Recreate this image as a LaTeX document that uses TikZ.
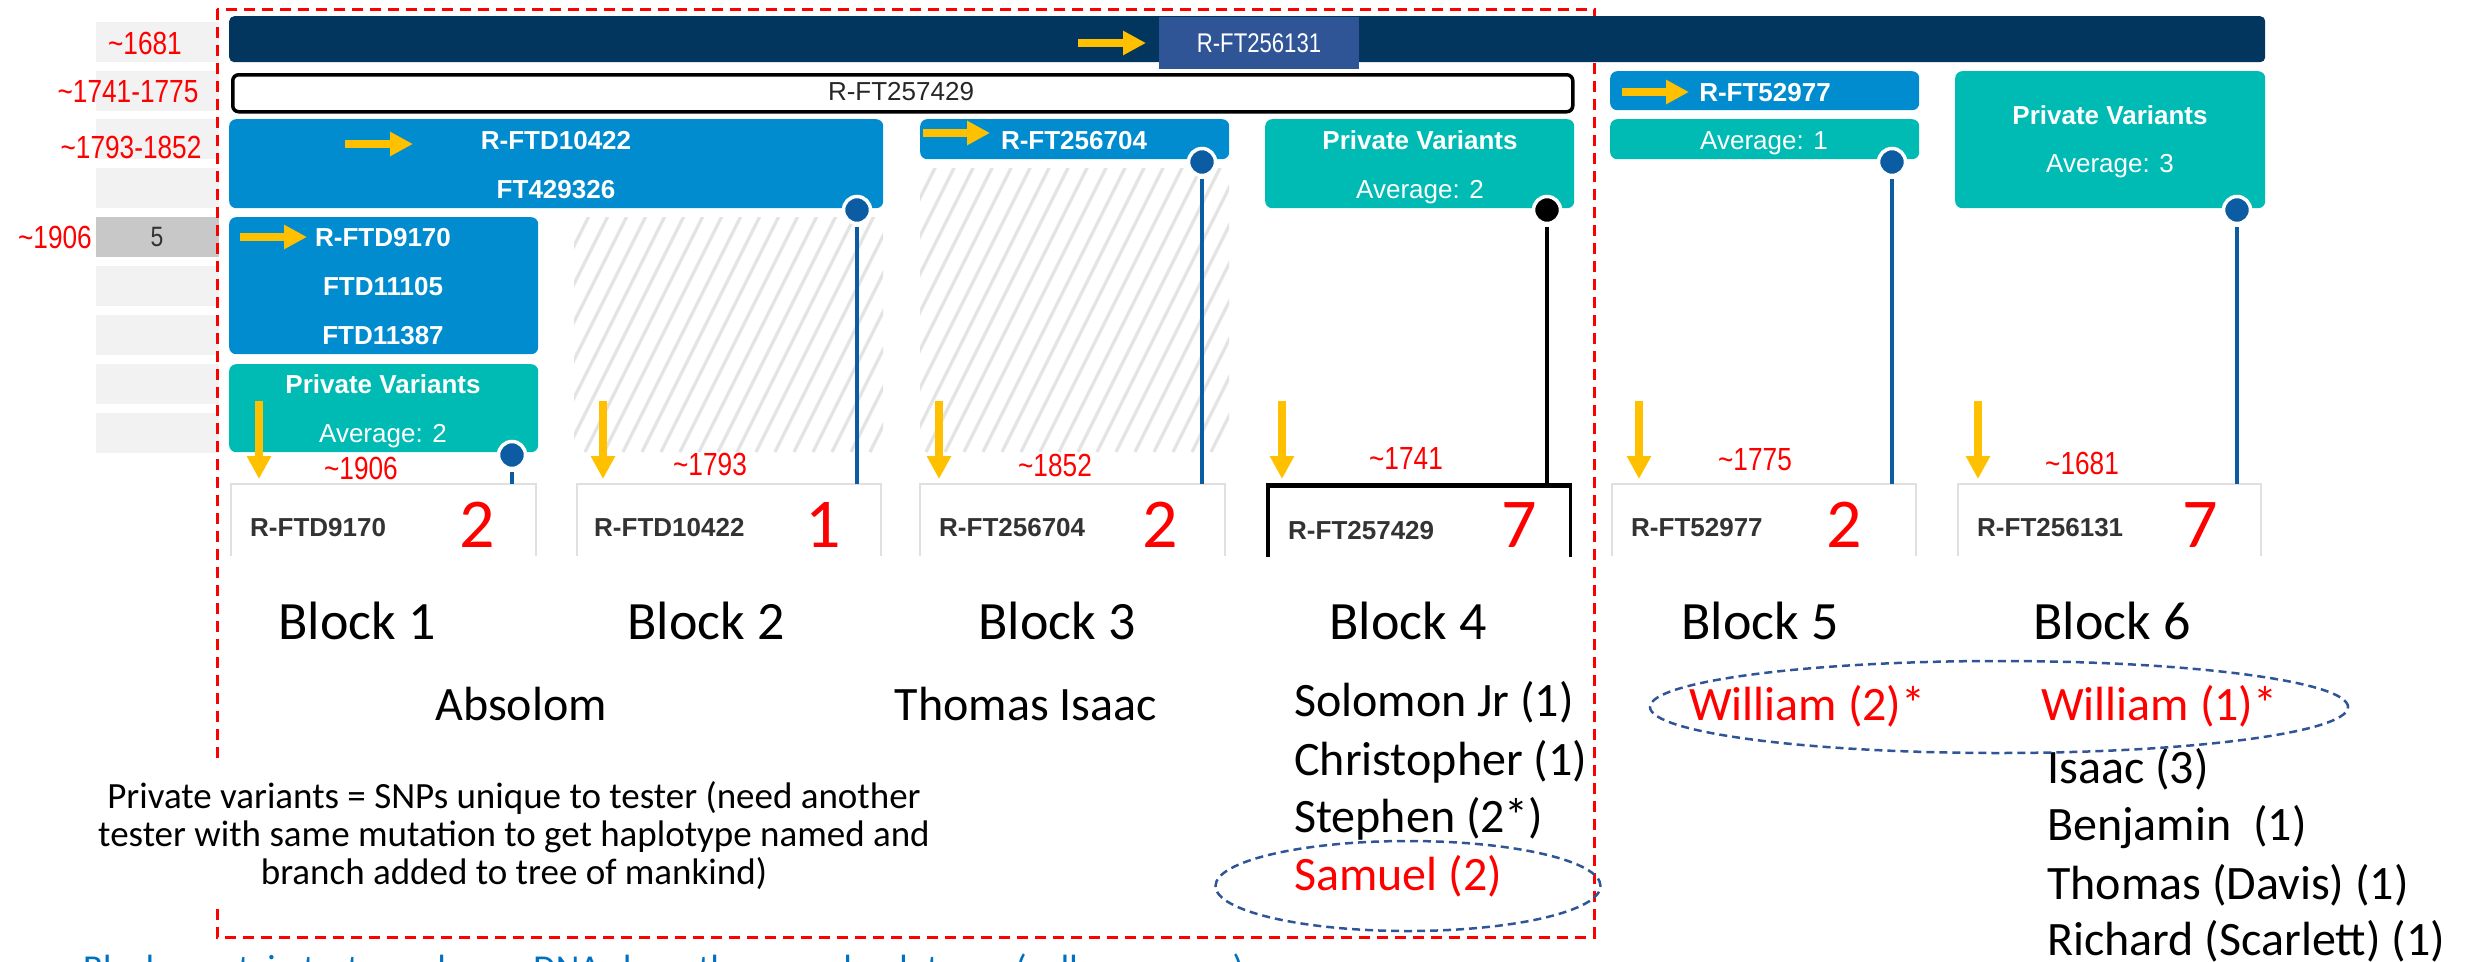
\documentclass[tikz,border=0pt]{standalone}
\usepackage{fontspec}
\setmainfont{Carlito}
\newfontfamily\uif{Liberation Sans}
\newfontfamily\narrowf[FakeStretch=0.82]{Liberation Sans}
\usetikzlibrary{arrows.meta,shapes.geometric}
\definecolor{navy}{HTML}{03365F}
\definecolor{labelblue}{HTML}{2F5597}
\definecolor{ftblue}{HTML}{008CCE}
\definecolor{ftteal}{HTML}{00BBB3}
\definecolor{dotblue}{HTML}{0B5CA3}
\definecolor{cellgray}{HTML}{F2F2F2}
\definecolor{celldark}{HTML}{C8C8C8}
\definecolor{hatchgray}{HTML}{E3E3E3}
\definecolor{arrowyellow}{HTML}{FFC000}
\definecolor{tgray}{HTML}{333333}
\definecolor{tborder}{HTML}{E0E0E0}
\definecolor{notecol}{HTML}{0070C0}
\begin{document}
\begin{tikzpicture}[x=1pt,y=-1pt,
  cell/.style={fill=cellgray, inner sep=0, minimum width=123pt, minimum height=40pt, anchor=north west},
  boxbase/.style={inner sep=0, anchor=north west, rounded corners=7pt},
  bluebox/.style={boxbase, fill=ftblue},
  tealbox/.style={boxbase, fill=ftteal},
  tbox/.style={inner sep=0, anchor=north west, minimum width=305pt, minimum height=72pt},
  tline/.style={draw=tborder, line width=2pt},
  dot/.style={circle, fill=dotblue, draw=white, line width=3.5pt, minimum size=27pt, inner sep=0},
  vline/.style={draw=dotblue, line width=4pt, shorten <=2pt},
  yarrow/.style={draw=arrowyellow, line width=8pt, -{Triangle[length=23pt,width=23pt]}},
  hatchl/.style={draw=hatchgray, line width=3.2pt},
  snp/.style={font=\uif\bfseries\fontsize{26}{30}\selectfont, text=white, inner sep=0, text height=18.6pt, text depth=0pt},
  avg/.style={font=\uif\fontsize{26}{30}\selectfont, text=white, inner sep=0, text height=18.6pt, text depth=0pt},
  datelab/.style={font=\narrowf\fontsize{32}{36}\selectfont, text=red, inner sep=0, text height=23pt, text depth=0pt},
  tid/.style={font=\uif\bfseries\fontsize{26}{30}\selectfont, text=tgray, inner sep=0, text height=18.6pt, text depth=0pt, anchor=west},
  cnt/.style={font=\fontsize{70}{80}\selectfont, text=red, inner sep=0, text height=44pt, text depth=0pt},
  blk/.style={font=\fontsize{54}{60}\selectfont, inner sep=0, text height=35pt, text depth=0pt},
  nm/.style={font=\fontsize{48}{56}\selectfont, inner sep=0, text height=31pt, text depth=0pt, anchor=west},
  ell/.style={ellipse, draw=labelblue, line width=2.5pt, dash pattern=on 8pt off 5pt, inner sep=0}
]
\useasboundingbox (0,0) rectangle (2473,961);

% left rows
\node[cell] (c1) at (96,22) {};
\node[cell] (c2) at (96,71) {};
\node[cell] (c3) at (96,119) {};
\node[cell] (c4) at (96,168) {};
\node[cell, fill=celldark] (c5) at (96,217) {};
\node[cell] (c6) at (96,266) {};
\node[cell] (c7) at (96,315) {};
\node[cell] (c8) at (96,364) {};
\node[cell] (c9) at (96,413) {};
\node[datelab] (l1) at (145,43) {\textasciitilde1681};
\node[datelab] (l2) at (128,91) {\textasciitilde1741-1775};
\node[datelab] (l3) at (131,147) {\textasciitilde1793-1852};
\node[datelab] (l5) at (55,237) {\textasciitilde1906};
\node[font=\narrowf\fontsize{28}{32}\selectfont, text=tgray, inner sep=0] (n5) at (157,237) {5};

% red dashed frame
\draw[red, line width=3pt, dash pattern=on 11pt off 7pt] (217,9) rectangle (1594,937);

% top bars
\node[boxbase, fill=navy, rounded corners=5pt, minimum width=2036pt, minimum height=46pt] (navybar) at (229,16) {};
\node[inner sep=0, anchor=north west, fill=labelblue, minimum width=200pt, minimum height=52pt] (toplab) at (1159,17) {};
\node[font=\narrowf\fontsize{27}{30}\selectfont, text=white, inner sep=0, text height=19pt, text depth=0pt] (toplabt) at (1259,43) {R-FT256131};
\node[boxbase, fill=white, draw=black, line width=3.5pt, rounded corners=6pt, minimum width=1340pt, minimum height=37pt] (wbar) at (231,73) {};
\node[avg, text=black!85] (wbart) at (901,91) {R-FT257429};

% hatched areas
\begin{scope}
\clip (574,217) rectangle (883,452);
\foreach \i in {0,...,23} { \draw[hatchl] ({452+19*\i},452) -- ++(122,-244); }
\end{scope}
\begin{scope}
\clip (920,168) rectangle (1229,452);
\foreach \i in {0,...,25} { \draw[hatchl] ({774+19*\i},452) -- ++(146,-292); }
\end{scope}

% block boxes
\node[bluebox, minimum width=654pt, minimum height=89pt] (b2) at (229,119) {};
\node[snp] (b2a) at (556,140) {R-FTD10422};
\node[snp] (b2b) at (556,189) {FT429326};

\node[bluebox, minimum width=309pt, minimum height=137pt] (b1) at (229,217) {};
\node[snp] (b1a) at (383,237) {R-FTD9170};
\node[snp] (b1b) at (383,286) {FTD11105};
\node[snp] (b1c) at (383,335) {FTD11387};
\node[tealbox, minimum width=309pt, minimum height=88pt] (p1) at (229,364) {};
\node[snp] (p1a) at (383,384) {Private Variants};
\node[avg] (p1b) at (383,433) {Average: 2};

\node[bluebox, minimum width=309pt, minimum height=40pt] (b3) at (920,119) {};
\node[snp] (b3a) at (1074,140) {R-FT256704};

\node[tealbox, minimum width=309pt, minimum height=89pt] (p4) at (1265,119) {};
\node[snp] (p4a) at (1420,140) {Private Variants};
\node[avg] (p4b) at (1420,189) {Average: 2};

\node[bluebox, minimum width=309pt, minimum height=39pt] (b5) at (1610,71) {};
\node[snp] (b5a) at (1765,92) {R-FT52977};
\node[tealbox, minimum width=309pt, minimum height=40pt] (p5) at (1610,119) {};
\node[avg] (p5a) at (1764,140) {Average: 1};

\node[tealbox, minimum width=310pt, minimum height=137pt] (p6) at (1955,71) {};
\node[snp] (p6a) at (2110,115) {Private Variants};
\node[avg] (p6b) at (2110,163) {Average: 3};

% tester boxes
\node[tbox] (t1) at (231,484) {};
\node[tbox, minimum width=304pt] (t2) at (577,484) {};
\node[tbox] (t3) at (920,484) {};
\node[tbox, minimum width=302pt] (t4) at (1268,485) {};
\node[tbox, minimum width=304pt] (t5) at (1612,484) {};
\node[tbox, minimum width=303pt] (t6) at (1958,484) {};
\draw[tline] (t1.south west) -- (t1.north west) -- (t1.north east) -- (t1.south east);
\draw[tline] (t2.south west) -- (t2.north west) -- (t2.north east) -- (t2.south east);
\draw[tline] (t3.south west) -- (t3.north west) -- (t3.north east) -- (t3.south east);
\draw[tline] (t5.south west) -- (t5.north west) -- (t5.north east) -- (t5.south east);
\draw[tline] (t6.south west) -- (t6.north west) -- (t6.north east) -- (t6.south east);
\draw[black, line width=3.5pt] (t4.south west) -- (t4.north west) -- (t4.north east) -- (t4.south east);
\draw[black, line width=5pt] (t4.north west) -- (t4.north east);

% dots and connectors
\node[dot] (d1) at (512,455) {};
\node[dot] (d2) at (857,210) {};
\node[dot] (d3) at (1202,162) {};
\node[dot, fill=black] (d4) at (1547,210) {};
\node[dot] (d5) at (1892,162) {};
\node[dot] (d6) at (2237,210) {};
\draw[vline] (d1.south) -- (d1 |- t1.north);
\draw[vline] (d2.south) -- (d2 |- t2.north);
\draw[vline] (d3.south) -- (d3 |- t3.north);
\draw[vline, draw=black] (d4.south) -- (d4 |- t4.north);
\draw[vline] (d5.south) -- (d5 |- t5.north);
\draw[vline] (d6.south) -- (d6 |- t6.north);

% yellow arrows
\coordinate (ha1) at (1078,43);  \coordinate (ha1e) at (1146,43);
\coordinate (ha2) at (345,144);  \coordinate (ha2e) at (413,144);
\coordinate (ha3) at (923,133);  \coordinate (ha3e) at (990,133);
\coordinate (ha4) at (240,237);  \coordinate (ha4e) at (307,237);
\coordinate (ha5) at (1622,92);  \coordinate (ha5e) at (1689,92);
\foreach \a in {ha1,ha2,ha3,ha4,ha5} { \draw[yarrow] (\a) -- (\a e); }
\coordinate (va1) at (259,401);  \coordinate (va1e) at (259,479);
\coordinate (va2) at (603,401);  \coordinate (va2e) at (603,479);
\coordinate (va3) at (939,401);  \coordinate (va3e) at (939,479);
\coordinate (va4) at (1282,401); \coordinate (va4e) at (1282,479);
\coordinate (va5) at (1639,401); \coordinate (va5e) at (1639,479);
\coordinate (va6) at (1978,401); \coordinate (va6e) at (1978,479);
\foreach \a in {va1,va2,va3,va4,va5,va6} { \draw[yarrow] (\a) -- (\a e); }

% dates above tester boxes
\node[datelab] (y1) at (361,468) {\textasciitilde1906};
\node[datelab] (y2) at (710,464) {\textasciitilde1793};
\node[datelab] (y3) at (1055,465) {\textasciitilde1852};
\node[datelab] (y4) at (1406,458) {\textasciitilde1741};
\node[datelab] (y5) at (1755,459) {\textasciitilde1775};
\node[datelab] (y6) at (2082,463) {\textasciitilde1681};

% tester ids and counts
\node[tid] (i1) at (250,527) {R-FTD9170};
\node[tid] (i2) at (594,527) {R-FTD10422};
\node[tid] (i3) at (939,527) {R-FT256704};
\node[tid] (i4) at (1288,530) {R-FT257429};
\node[tid] (i5) at (1631,527) {R-FT52977};
\node[tid] (i6) at (1977,527) {R-FT256131};
\node[cnt] (k1) at (477,525) {2};
\node[cnt] (k2) at (823,525) {1};
\node[cnt] (k3) at (1160,525) {2};
\node[cnt] (k4) at (1519,525) {7};
\node[cnt] (k5) at (1844,525) {2};
\node[cnt] (k6) at (2200,525) {7};

% block labels
\node[blk] (bl1) at (357,622) {Block 1};
\node[blk] (bl2) at (706,622) {Block 2};
\node[blk] (bl3) at (1057,622) {Block 3};
\node[blk] (bl4) at (1408,622) {Block 4};
\node[blk] (bl5) at (1760,622) {Block 5};
\node[blk] (bl6) at (2112,622) {Block 6};

% names
\node[nm, anchor=center] (nA) at (521,705) {Absolom};
\node[nm, anchor=center] (nT) at (1026,705) {Thomas Isaac};
\node[nm] (n41) at (1294,701) {Solomon Jr (1)};
\node[nm] (n42) at (1294,760) {Christopher (1)};
\node[nm] (n43) at (1294,817) {Stephen (2*)};
\node[nm, text=red] (n44) at (1294,875) {Samuel (2)};
\node[nm, text=red] (n51) at (1689,705) {William (2)*};
\node[nm, text=red] (n61) at (2041,705) {William (1)*};
\node[nm] (n62) at (2047,768) {Isaac (3)};
\node[nm] (n63) at (2047,825) {Benjamin\ \ (1)};
\node[nm] (n64) at (2047,884) {Thomas (Davis) (1)};
\node[nm] (n65) at (2047,940) {Richard (Scarlett) (1)};

\node[ell, minimum width=385pt, minimum height=90pt] (e1) at (1408,886) {};
\node[ell, minimum width=698pt, minimum height=92pt] (e2) at (1999,707) {};

% footnote
\node[fill=white, inner sep=0, minimum width=870pt, minimum height=143pt, align=center,
      font=\fontsize{37}{38}\selectfont] (fn) at (514,836)
  {Private variants = SNPs unique to tester (need another\\
   tester with same mutation to get haplotype named and\\
   branch added to tree of mankind)};

% bottom note
\node[font=\fontsize{36.5}{40}\selectfont, text=notecol, inner sep=0, anchor=base] (bul) at (21,980) {\textbullet};
\node[font=\fontsize{36.5}{40}\selectfont, text=notecol, inner sep=0, anchor=base west] (bnote) at (83,980)
  {Blocks contain testers whose yDNA share the same haplotypes (yellow arrows)};
\end{tikzpicture}
\end{document}
